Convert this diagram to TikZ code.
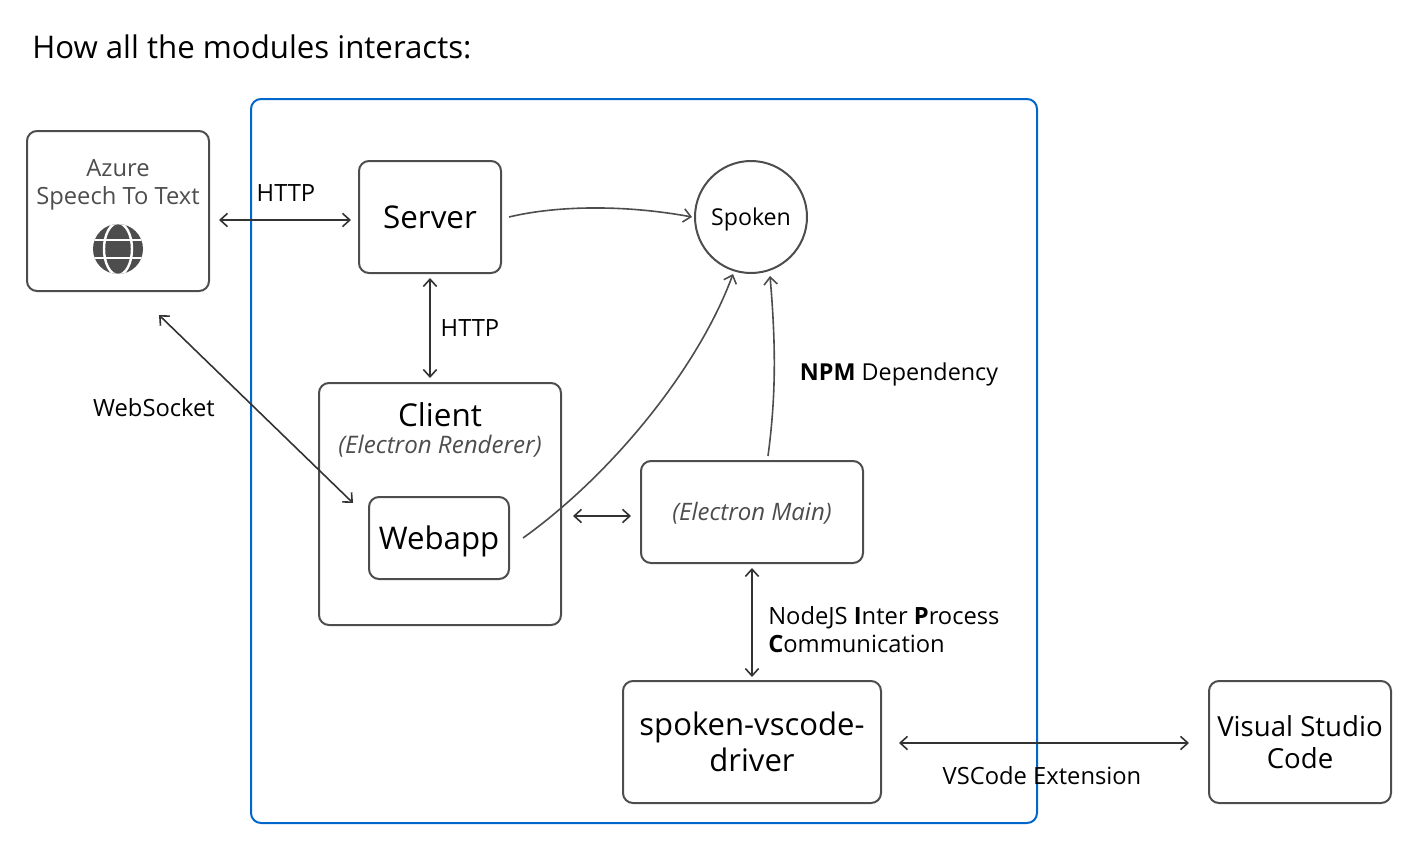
\documentclass[tikz,border=0pt]{standalone}
\usepackage{fontspec}
\setmainfont{Open Sans}
\usetikzlibrary{arrows.meta,calc}
\definecolor{linegray}{HTML}{4D4D4D}
\definecolor{arrowgray}{HTML}{333333}
\definecolor{frameblue}{HTML}{0066CC}
\tikzset{
  box/.style={draw=linegray, line width=1.5pt, rounded corners=7.5pt, align=center, inner sep=0},
  conn/.style={draw=arrowgray, line width=1.2pt, >={Straight Barb[length=5.5pt,width=10pt,line width=1.2pt]}},
  lbl/.style={inner sep=0, font=\fontsize{17.8}{21}\selectfont, align=left},
}
\begin{document}
\begin{tikzpicture}[x=.75pt, y=-.75pt]
\useasboundingbox (0,0) rectangle (1428,846);

\node [lbl, anchor=west, font=\fontsize{23.4}{26}\selectfont] (title) at (32,47) {How all the modules interacts:};

\node [box, draw=frameblue, minimum width=589.5pt, minimum height=543pt] (main) at (644,461) {};

\node [box, minimum width=136.5pt, minimum height=120pt, text=linegray, font=\fontsize{17.8}{21}\selectfont] (azure) at (118,211) {Azure\\Speech To Text\\[22pt]\mbox{}};
\node [box, minimum width=106.5pt, minimum height=84pt, font=\fontsize{23.5}{27}\selectfont] (server) at (430,217) {Server};
\node [box, circle, minimum size=84pt, text depth=0pt, font=\fontsize{17.4}{21}\selectfont] (spoken) at (751,217) {Spoken};
\node [box, minimum width=181.5pt, minimum height=181.5pt, font=\fontsize{18.1}{20.5}\selectfont] (client) at (440,504) {{\fontsize{23.6}{27}\selectfont Client}\\{\itshape\color{linegray}(Electron Renderer)}\\[93pt]\mbox{}};
\node [box, minimum width=105pt, minimum height=61.5pt, text depth=0pt, font=\fontsize{23.4}{27}\selectfont] (webapp) at (439,538) {Webapp};
\node [box, minimum width=166.5pt, minimum height=76.5pt, text depth=1pt, text=linegray, font=\fontsize{18}{21}\selectfont\itshape] (electron) at (752,512) {(Electron Main)};
\node [box, minimum width=193.5pt, minimum height=91.5pt, font=\fontsize{23.3}{27}\selectfont] (driver) at (752,742) {spoken-vscode-\\driver};
\node [box, minimum width=136.5pt, minimum height=91.5pt, font=\fontsize{20.7}{24}\selectfont] (vscode) at (1300,742) {Visual Studio\\Code};

% globe
\node [circle, fill=linegray, minimum size=37.5pt, inner sep=0] (globe) at (118,249) {};
\begin{scope}
\clip (globe.center) circle (25);
\draw [white, line width=1.8pt] (globe.center) ellipse (14 and 26);
\draw [white, line width=1.8pt] ($(globe.center)+(-26,-9)$) -- ($(globe.center)+(26,-9)$);
\draw [white, line width=1.8pt] ($(globe.center)+(-26,9)$) -- ($(globe.center)+(26,9)$);
\end{scope}

\draw [conn, <->] ($(azure.east)+(9,9)$) -- ($(server.west)+(-7,3)$);
\draw [conn, <->] ($(server.south)+(0,4)$) -- ($(client.north)+(-10,-4)$);
\draw [conn, <->] ($(azure.south)+(41,23)$) -- ($(webapp.west)+(-15,-35)$);
\draw [conn, <->] ($(client.east)+(11,12)$) -- ($(electron.west)+(-9,4)$);
\draw [conn, <->] ($(electron.south)+(0,4)$) -- ($(driver.north)+(0,-3)$);
\draw [conn, <->] ($(driver.east)+(17,1)$) -- ($(vscode.west)+(-19,1)$);

\draw [conn, draw=linegray, ->] ($(server.east)+(7,0)$) .. controls +(50,-12) and +(-65,-12) .. ($(spoken.west)+(-2,0)$);
\draw [conn, draw=linegray, ->] ($(webapp.east)+(13,0)$) .. controls +(88,-63) and +(-35,95) .. ($(spoken.south)+(-18,0)$);
\draw [conn, draw=linegray, ->] ($(electron.north)+(16,-4)$) .. controls +(8,-60) and +(6,70) .. ($(spoken.south)+(19,2)$);

\node [lbl] (http1) at (286,193) {HTTP};
\node [lbl] (http2) at (470,328) {HTTP};
\node [lbl] (websocket) at (154,408) {WebSocket};
\node [lbl, font=\fontsize{17.5}{21}\selectfont] (npm) at (899,374) {\textbf{NPM} Dependency};
\node [lbl, anchor=west] (ipc) at (768,630) {NodeJS \textbf{I}nter \textbf{P}rocess\\\textbf{C}ommunication};
\node [lbl] (extension) at (1042,776) {VSCode Extension};
\end{tikzpicture}
\end{document}
